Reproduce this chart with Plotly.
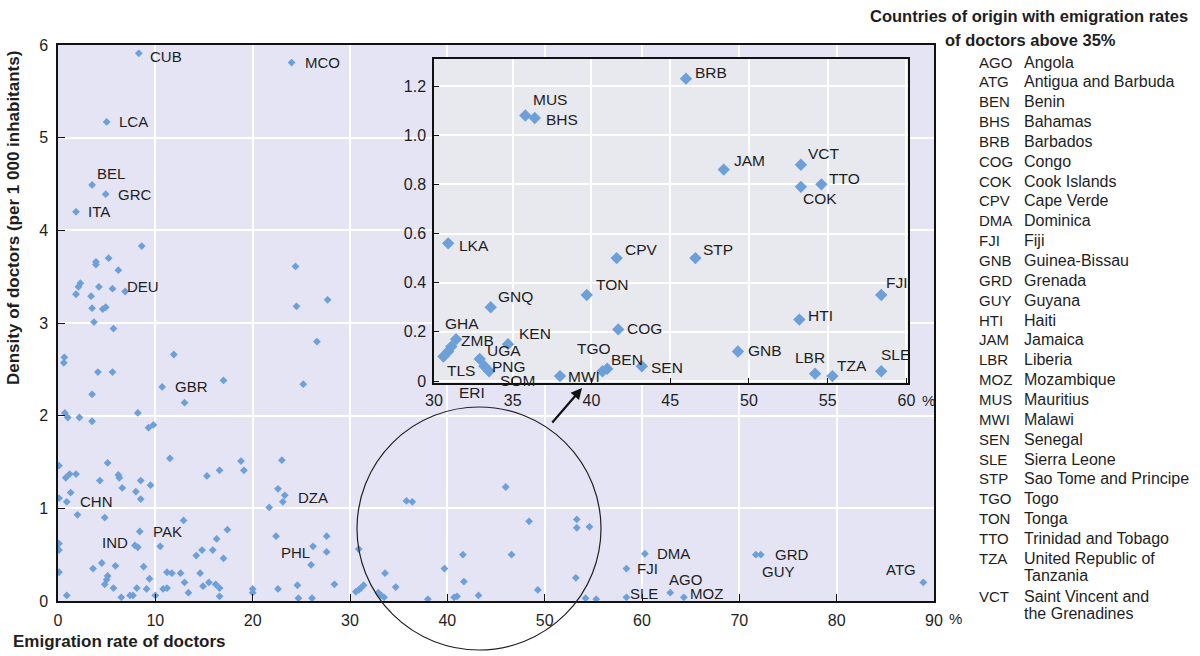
import plotly.graph_objects as go

# Emigration rate of doctors (%) against density of doctors (per 1 000 inhabitants)
codes = [
    "CUB", "MCO", "LCA", "BEL", "GRC", "ITA", "DEU", "GBR", "CHN", "IND", "PAK", "DZA", "PHL",
    "DMA", "FJI", "AGO", "SLE", "MOZ", "GRD", "GUY", "ATG",
    "BRB", "MUS", "BHS", "JAM", "VCT", "TTO", "COK", "LKA", "CPV", "STP", "TON", "GNQ", "HTI",
    "COG", "KEN", "GNB", "GHA", "ZMB", "ERI", "TLS", "UGA", "PNG", "SOM", "MWI", "TGO", "BEN",
    "SEN", "LBR", "TZA",
]
code_rate = [
    8.3, 24.0, 5.0, 3.5, 4.9, 1.85, 5.6, 10.7, 0.9, 7.9, 8.4, 23.3, 26.2,
    60.3, 58.4, 62.9, 58.4, 64.3, 72.2, 71.7, 88.9,
    46.0, 35.8, 36.4, 48.4, 53.3, 54.6, 53.3, 30.9, 41.6, 46.6, 39.7, 33.6, 53.2,
    41.7, 34.7, 49.3, 31.4, 31.1, 30.9, 30.6, 32.9, 33.2, 33.5, 38.0, 40.7, 41.0,
    43.2, 54.2, 55.3,
]
code_density = [
    5.91, 5.81, 5.17, 4.49, 4.39, 4.20, 3.37, 2.31, 1.07, 0.60, 0.75, 1.14, 0.59,
    0.51, 0.35, 0.09, 0.04, 0.04, 0.50, 0.50, 0.20,
    1.23, 1.08, 1.07, 0.86, 0.88, 0.80, 0.79, 0.56, 0.50, 0.50, 0.35, 0.30, 0.25,
    0.21, 0.15, 0.12, 0.17, 0.14, 0.12, 0.10, 0.09, 0.06, 0.04, 0.02, 0.04, 0.05,
    0.06, 0.03, 0.02,
]

# Other countries of origin (not labelled)
other_rate = [
    8.6, 24.4, 5.2, 3.9, 3.9, 6.2, 2.3, 2.1, 1.85, 4.2, 6.9, 3.4, 3.5, 4.6, 4.9, 24.5, 27.7,
    3.7, 5.7, 26.6, 0.65, 0.6, 11.9, 4.1, 5.6, 25.2, 17.0, 13.0, 3.5, 0.7, 1.0, 2.2, 3.5,
    8.2, 9.3, 9.8, 0.1, 11.5, 23.0, 18.8, 19.1, 16.6, 15.3, 5.1, 0.8, 1.2, 1.85, 4.3, 6.2,
    6.3, 6.6, 8.5, 9.5, 1.3, 8.0, 8.5, 0.1, 2.0, 4.8, 22.6, 23.1, 21.7, 12.9, 17.4, 8.2,
    10.5, 16.3, 22.4, 27.6, 27.6, 26.0, 0.1, 0.1, 0.1, 14.8, 15.9, 14.2, 17.0, 3.6, 4.5,
    5.9, 8.8, 5.1, 5.0, 4.8, 9.4, 11.2, 11.7, 12.6, 14.6, 13.0, 15.5, 16.2, 14.9, 16.6,
    5.7, 8.1, 9.1, 10.8, 11.2, 13.4, 0.9, 6.5, 7.4, 7.7, 10.0, 16.6, 20.0, 20.0, 22.6,
    24.6, 24.7, 26.1, 28.4,
]
other_density = [
    3.83, 3.61, 3.70, 3.66, 3.63, 3.57, 3.43, 3.39, 3.31, 3.39, 3.34, 3.29, 3.16, 3.15, 3.17,
    3.18, 3.25, 3.01, 2.94, 2.80, 2.63, 2.57, 2.66, 2.47, 2.47, 2.34, 2.38, 2.14, 2.23, 2.03,
    1.98, 1.98, 1.94, 2.03, 1.87, 1.90, 1.46, 1.54, 1.52, 1.51, 1.41, 1.41, 1.35, 1.49, 1.33,
    1.37, 1.37, 1.30, 1.36, 1.33, 1.22, 1.30, 1.25, 1.17, 1.18, 1.10, 1.11, 0.93, 0.90, 1.21,
    1.07, 1.01, 0.87, 0.77, 0.58, 0.59, 0.67, 0.70, 0.70, 0.53, 0.39, 0.62, 0.55, 0.31, 0.55,
    0.55, 0.49, 0.46, 0.35, 0.41, 0.38, 0.37, 0.27, 0.23, 0.18, 0.24, 0.31, 0.30, 0.30, 0.30,
    0.20, 0.20, 0.18, 0.16, 0.14, 0.14, 0.14, 0.13, 0.13, 0.14, 0.09, 0.06, 0.04, 0.06, 0.06,
    0.06, 0.05, 0.13, 0.09, 0.13, 0.17, 0.03, 0.03, 0.18,
]

main_labels = ["CUB", "MCO", "LCA", "BEL", "GRC", "ITA", "DEU", "GBR", "CHN", "IND", "PAK",
               "DZA", "PHL", "DMA", "FJI", "AGO", "SLE", "MOZ", "GRD", "GUY", "ATG"]

x_ticks = [0, 10, 20, 30, 40, 50, 60, 70, 80, 90]
y_ticks = [0, 1, 2, 3, 4, 5, 6]
inset_x_ticks = [30, 35, 40, 45, 50, 55, 60]
inset_y_ticks = [0, 0.2, 0.4, 0.6, 0.8, 1.0, 1.2]
inset_y_text = ["0", "0.2", "0.4", "0.6", "0.8", "1.0", "1.2"]

legend_codes = ["AGO", "ATG", "BEN", "BHS", "BRB", "COG", "COK", "CPV", "DMA", "FJI", "GNB",
                "GRD", "GUY", "HTI", "JAM", "LBR", "MOZ", "MUS", "MWI", "SEN", "SLE", "STP",
                "TGO", "TON", "TTO", "TZA", "VCT"]
legend_names = [["Angola"], ["Antigua and Barbuda"], ["Benin"], ["Bahamas"], ["Barbados"],
                ["Congo"], ["Cook Islands"], ["Cape Verde"], ["Dominica"], ["Fiji"],
                ["Guinea-Bissau"], ["Grenada"], ["Guyana"], ["Haiti"], ["Jamaica"],
                ["Liberia"], ["Mozambique"], ["Mauritius"], ["Malawi"], ["Senegal"],
                ["Sierra Leone"], ["Sao Tome and Principe"], ["Togo"], ["Tonga"],
                ["Trinidad and Tobago"], ["United Republic of", "Tanzania"],
                ["Saint Vincent and", "the Grenadines"]]

# ---- styling / geometry ----
W, H = 1200, 656
ML, MR, MT, MB = 58, 266, 45, 55
PW, PH = W - ML - MR, H - MT - MB


def px(xp):
    return (xp - ML) / PW


def py(yp):
    return (H - MB - yp) / PH


BLUE = "#6d9fd9"
MAIN_BG = "#e4e4f5"
INSET_BG = "#e8e8ef"
FONT = "Liberation Sans, Arial, sans-serif"
TXT = "#1e1e1e"

# label offsets in pixels: (xanchor, dx, dy)
main_offsets = {
    "CUB": ("left", 9, -3), "MCO": ("left", 11, 0), "LCA": ("left", 10, 0),
    "BEL": ("left", 3, 11), "GRC": ("left", 10, 0), "ITA": ("left", 10, 0),
    "DEU": ("left", 12, 2), "GBR": ("left", 11, 0), "CHN": ("left", 11, 0),
    "IND": ("right", -5, 3), "PAK": ("left", 11, 0), "DZA": ("left", 11, -2),
    "PHL": ("right", -1, -6), "DMA": ("left", 10, 0), "FJI": ("left", 9, 0),
    "AGO": ("left", -3, 13), "SLE": ("left", 2, 4), "MOZ": ("left", 4, 4),
    "GRD": ("left", 12, 0), "GUY": ("left", 4, -17), "ATG": ("right", -5, 13),
}
inset_offsets = {
    "BRB": ("left", 7, 6), "MUS": ("left", 6, 16), "BHS": ("left", 9, -2),
    "JAM": ("left", 8, 9), "VCT": ("left", 5, 11), "TTO": ("left", 6, 6),
    "COK": ("left", 0, -12), "LKA": ("left", 9, -2), "CPV": ("left", 6, 9),
    "STP": ("left", 6, 9), "TON": ("left", 7, 10), "GNQ": ("left", 5, 11),
    "FJI": ("left", 3, 12), "HTI": ("left", 7, 4), "COG": ("left", 7, 1),
    "GNB": ("left", 8, 1), "LBR": ("center", -5, 16), "TZA": ("left", 3, 11),
    "SLE": ("left", -2, 17), "KEN": ("left", 9, 11), "GHA": ("left", -13, 16),
    "ZMB": ("left", 8, 6), "TLS": ("left", 2, -14), "UGA": ("left", 5, 8),
    "PNG": ("left", 6, 0), "SOM": ("left", 9, -9), "ERI": ("left", 9, -41),
    "MWI": ("left", 6, 0), "TGO": ("center", -9, 23), "BEN": ("left", 2, 9),
    "SEN": ("left", 7, -1),
}

all_rate = code_rate + other_rate
all_density = code_density + other_density

fig = go.Figure()

# main scatter
fig.add_trace(go.Scatter(
    x=all_rate, y=all_density, mode="markers",
    marker=dict(symbol="diamond", size=6, color=BLUE, line=dict(width=0)),
    xaxis="x", yaxis="y", hoverinfo="skip", showlegend=False,
))

# inset: countries with an emigration rate between 30% and 60%
ins_x = [r for r in code_rate if 30 <= r <= 60.1]
ins_y = [d for r, d in zip(code_rate, code_density) if 30 <= r <= 60.1]
fig.add_trace(go.Scatter(
    x=ins_x, y=ins_y, mode="markers",
    marker=dict(symbol="diamond", size=9.5, color=BLUE, line=dict(width=0)),
    xaxis="x2", yaxis="y2", hoverinfo="skip", showlegend=False, cliponaxis=True,
))

annotations = []
for c, r, d in zip(codes, code_rate, code_density):
    if c in main_labels:
        anc, dx, dy = main_offsets[c]
        annotations.append(dict(
            x=r, y=d, xref="x", yref="y", text=c, showarrow=False,
            xanchor=anc, yanchor="middle", xshift=dx, yshift=dy,
            font=dict(family=FONT, size=15, color=TXT),
        ))
    if 30 <= r <= 60.1 and c in inset_offsets:
        anc, dx, dy = inset_offsets[c]
        annotations.append(dict(
            x=r, y=d, xref="x2", yref="y2", text=c, showarrow=False,
            xanchor=anc, yanchor="middle", xshift=dx, yshift=dy,
            font=dict(family=FONT, size=15.5, color=TXT),
        ))

# percent signs after the last tick labels
annotations.append(dict(x=px(955), y=py(618), xref="paper", yref="paper", text="%",
                        showarrow=False, xanchor="center", yanchor="middle",
                        font=dict(family=FONT, size=15, color=TXT)))
annotations.append(dict(x=px(928), y=py(400), xref="paper", yref="paper", text="%",
                        showarrow=False, xanchor="center", yanchor="middle",
                        font=dict(family=FONT, size=15, color=TXT)))

# arrow from the circle to the inset
annotations.append(dict(x=px(582), y=py(388), xref="paper", yref="paper", text="",
                        showarrow=True, ax=-31, ay=36, arrowhead=2, arrowsize=1,
                        arrowwidth=2.2, arrowcolor="#111"))

# axis titles
annotations.append(dict(x=px(14), y=py(218), xref="paper", yref="paper",
                        text="<b>Density of doctors (per 1 000 inhabitants)</b>",
                        textangle=-90, showarrow=False, xanchor="center", yanchor="middle",
                        font=dict(family=FONT, size=17, color=TXT)))
annotations.append(dict(x=px(11), y=py(641), xref="paper", yref="paper",
                        text="<b>Emigration rate of doctors</b>", showarrow=False,
                        xanchor="left", yanchor="middle",
                        font=dict(family=FONT, size=17, color=TXT)))

# country legend
annotations.append(dict(x=px(1029), y=py(16), xref="paper", yref="paper",
                        text="<b>Countries of origin with emigration rates</b>",
                        showarrow=False, xanchor="center", yanchor="middle",
                        font=dict(family=FONT, size=16.5, color=TXT)))
annotations.append(dict(x=px(1030), y=py(40), xref="paper", yref="paper",
                        text="<b>of doctors above 35%</b>",
                        showarrow=False, xanchor="center", yanchor="middle",
                        font=dict(family=FONT, size=16.5, color=TXT)))
row_y = 62.0
for c, lines in zip(legend_codes, legend_names):
    annotations.append(dict(x=px(977), y=py(row_y), xref="paper", yref="paper", text=c,
                            showarrow=False, xanchor="left", yanchor="middle",
                            font=dict(family=FONT, size=15, color=TXT)))
    for k, line in enumerate(lines):
        annotations.append(dict(x=px(1022), y=py(row_y + 17 * k), xref="paper",
                                yref="paper", text=line, showarrow=False,
                                xanchor="left", yanchor="middle",
                                font=dict(family=FONT, size=16, color=TXT)))
    row_y += 19.85 + 18.5 * (len(lines) - 1)

shapes = [
    # inset plotting area
    dict(type="rect", xref="x2", yref="y2", x0=30, x1=60.1, y0=-0.008, y1=1.31,
         fillcolor=INSET_BG, line=dict(width=0), layer="below"),
    # circle around the 30-60% region
    dict(type="circle", xref="paper", yref="paper",
         x0=px(357), x1=px(601), y0=py(650), y1=py(407),
         line=dict(color="#222", width=1.2)),
]

axis_common = dict(showline=True, linecolor="#111", linewidth=1.5, mirror=True,
                   ticks="inside", tickcolor="#111", showgrid=True, gridcolor="white",
                   zeroline=False, tickfont=dict(family=FONT, size=16, color=TXT))

fig.update_layout(
    width=W, height=H, margin=dict(l=ML, r=MR, t=MT, b=MB),
    paper_bgcolor="white", plot_bgcolor=MAIN_BG,
    xaxis=dict(domain=[0, 1], range=[0, 90], tickvals=x_ticks, ticklen=7, gridwidth=2,
               ticklabelstandoff=4, anchor="y", **axis_common),
    yaxis=dict(domain=[0, 1], range=[0, 6], tickvals=y_ticks, ticklen=7, gridwidth=2,
               ticklabelstandoff=5, anchor="x", **axis_common),
    xaxis2=dict(domain=[px(434), px(908)], range=[30, 60.1], tickvals=inset_x_ticks,
                ticklen=5, gridwidth=1.5, ticklabelstandoff=2, anchor="y2", **axis_common),
    yaxis2=dict(domain=[py(383), py(59)], range=[-0.008, 1.31], tickvals=inset_y_ticks,
                ticktext=inset_y_text, ticklen=5, gridwidth=1.5, ticklabelstandoff=3,
                anchor="x2", **axis_common),
    annotations=annotations, shapes=shapes, showlegend=False,
)

fig.write_html("out.html")
